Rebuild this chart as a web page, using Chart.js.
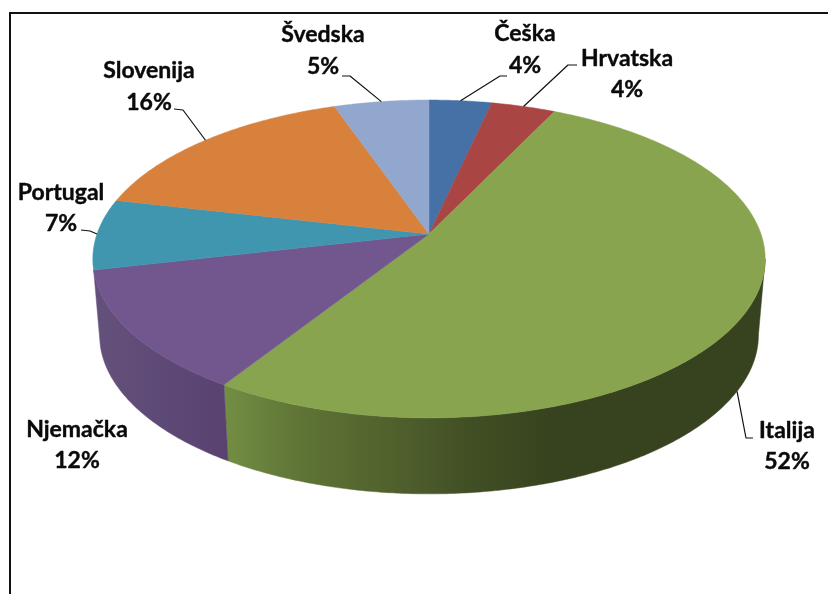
<!DOCTYPE html>
<html>
<head>
<meta charset="utf-8">
<style>html,body{margin:0;padding:0;background:#fff}canvas{display:block}</style>
<script src="https://cdn.jsdelivr.net/npm/chart.js@4/dist/chart.umd.min.js"></script>
</head>
<body>
<canvas id="c" width="828" height="594"></canvas>
<script>
const categories = ["Češka", "Hrvatska", "Italija", "Njemačka", "Portugal", "Slovenija", "Švedska"];
const shares = [3.5, 3.6, 51.9, 12.4, 7.2, 16.1, 5.3];
const sliceColors = ["#4571a6", "#a94543", "#88a44e", "#71578e", "#3f96ae", "#d8813c", "#91a7cd"];

// Perspective of the tilted disc
const VIEW = {cx: 429, cy: 234, A: 332, B: 155, k: 0.157, depth: 76, baseScale: 0.98};
// Shading of the front wall, [x, colour] pairs per category
const WALL = {
  "Italija": [[226, "#728e43"], [300, "#5f7436"], [400, "#4f5f2c"], [470, "#414f24"], [550, "#37431e"], [765, "#37431e"]],
  "Njemačka": [[93, "#64517b"], [160, "#5e4a76"], [230, "#594170"]]
};
// Label placement: centre x, first and second baselines, leader elbow points, anchor on the lower rim
const LABELS = {
  "Češka":    {x: 525, y1: 41,  y2: 73,  leader: [[507, 76], [500, 76]]},
  "Hrvatska": {x: 627, y1: 66,  y2: 97,  leader: [[577, 65], [568, 65]]},
  "Italija":  {x: 787, y1: 438, y2: 469, leader: [[753, 438], [746, 438]], rim: true},
  "Njemačka": {x: 77,  y1: 437, y2: 468, leader: null},
  "Portugal": {x: 61,  y1: 200, y2: 231, leader: [[81, 230], [90, 231]]},
  "Slovenija":{x: 149, y1: 78,  y2: 110, leader: [[174, 109], [183, 110]]},
  "Švedska":  {x: 323, y1: 42,  y2: 74,  leader: [[342, 76], [350, 76]]}
};

function project(theta, lower) {
  const X = Math.sin(theta), Y = Math.cos(theta), w = 1 + VIEW.k * Y;
  const s = lower ? VIEW.baseScale : 1;
  return [VIEW.cx + s * VIEW.A * X / w, VIEW.cy + (lower ? VIEW.depth : 0) - VIEW.B * Y / w];
}
function edge(ctx, a, b, lower) {
  const n = Math.max(2, Math.ceil(Math.abs(b - a) / 0.01));
  for (let i = 0; i <= n; i++) {
    const p = project(a + (b - a) * i / n, lower);
    ctx.lineTo(p[0], p[1]);
  }
}

const disc3d = {
  id: "disc3d",
  beforeDatasetsDraw(chart) {
    const ctx = chart.ctx, arcs = chart.getDatasetMeta(0).data;
    const angles = arcs.map(a => [a.startAngle + Math.PI / 2, a.endAngle + Math.PI / 2]);
    // the wall shows between the two tangent points of the disc outline
    const wallFrom = Math.PI - Math.asin(Math.sqrt(1 - VIEW.k * VIEW.k));
    const wallTo = 2 * Math.PI - wallFrom;
    ctx.save();
    // frame
    ctx.strokeStyle = "#111"; ctx.lineWidth = 2;
    ctx.beginPath(); ctx.moveTo(10, 594); ctx.lineTo(10, 13); ctx.lineTo(828, 13); ctx.stroke();
    // walls
    angles.forEach((r, i) => {
      const a = Math.max(r[0], wallFrom), b = Math.min(r[1], wallTo), mid = (r[0] + r[1]) / 2;
      if (a >= b || mid > wallTo || mid < wallFrom) return;
      const stops = WALL[categories[i]];
      let fill = sliceColors[i];
      if (stops) {
        fill = ctx.createLinearGradient(0, 0, 828, 0);
        stops.forEach(s => fill.addColorStop(s[0] / 828, s[1]));
      }
      ctx.fillStyle = fill; ctx.strokeStyle = fill; ctx.lineWidth = 0.5;
      ctx.beginPath(); edge(ctx, a, b, false); edge(ctx, b, a, true); ctx.closePath();
      ctx.fill(); ctx.stroke();
    });
    // tops
    angles.forEach((r, i) => {
      ctx.fillStyle = sliceColors[i]; ctx.strokeStyle = sliceColors[i]; ctx.lineWidth = 0.5;
      ctx.beginPath(); ctx.moveTo(VIEW.cx, VIEW.cy); edge(ctx, r[0], r[1], false); ctx.closePath();
      ctx.fill(); ctx.stroke();
    });
    // labels and leaders
    ctx.textAlign = "center"; ctx.textBaseline = "alphabetic";
    ctx.font = "bold 23px Lato, 'Open Sans', sans-serif";
    ctx.lineJoin = "round";
    categories.forEach((name, i) => {
      const l = LABELS[name];
      ctx.fillStyle = "#0a0a0a"; ctx.strokeStyle = "#0a0a0a"; ctx.lineWidth = 0.4;
      [[name, l.y1], [Math.round(shares[i]) + "%", l.y2]].forEach(t => {
        ctx.fillText(t[0], l.x, t[1]);
        ctx.strokeText(t[0], l.x, t[1]);
      });
      if (l.leader) {
        const p = project((angles[i][0] + angles[i][1]) / 2, !!l.rim);
        ctx.strokeStyle = "#111"; ctx.lineWidth = 1.2;
        ctx.beginPath();
        l.leader.forEach((q, j) => j ? ctx.lineTo(q[0], q[1]) : ctx.moveTo(q[0], q[1]));
        ctx.lineTo(p[0], p[1]);
        ctx.stroke();
      }
    });
    ctx.restore();
    return false;
  }
};

new Chart(document.getElementById("c"), {
  type: "pie",
  data: {labels: categories, datasets: [{data: shares, backgroundColor: sliceColors, borderWidth: 0}]},
  options: {
    responsive: false,
    animation: false,
    plugins: {legend: {display: false}, tooltip: {enabled: false}}
  },
  plugins: [disc3d]
});
</script>
</body>
</html>
